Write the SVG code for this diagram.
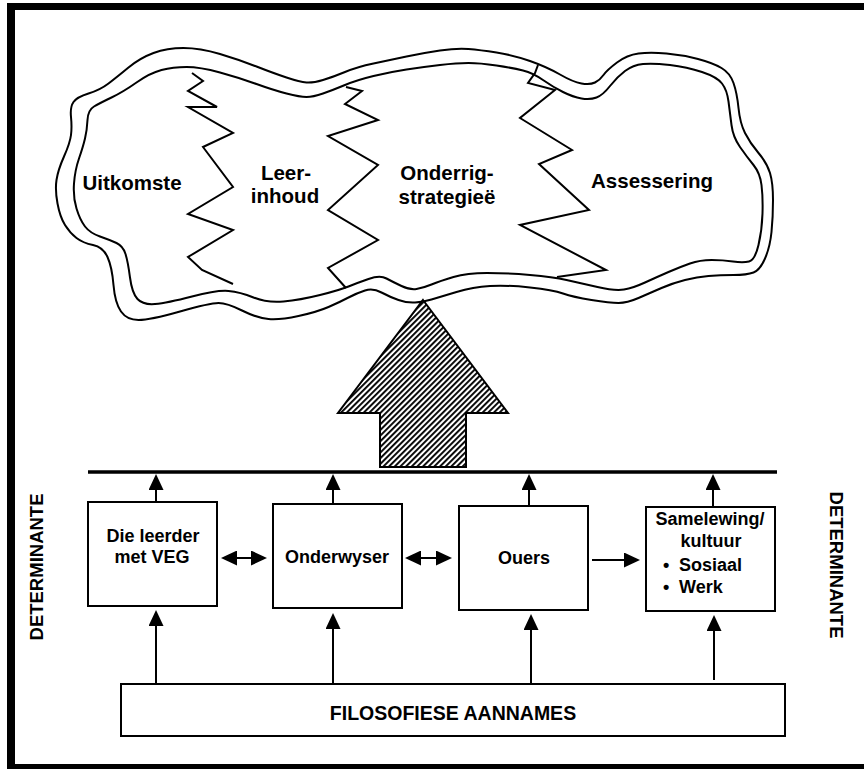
<svg xmlns="http://www.w3.org/2000/svg" width="864" height="769" viewBox="0 0 864 769">
<style>
text{font-family:"Liberation Sans",Arial,sans-serif;font-weight:bold;fill:#000}
.c{font-size:20.5px;text-anchor:middle}
.b{font-size:18px;text-anchor:middle}
.bs{font-size:18px}
.d{font-size:18.5px;text-anchor:middle}
.ln{fill:none;stroke:#000;stroke-width:2}
.box{fill:#fff;stroke:#000;stroke-width:2}
.conn line{stroke:#000;stroke-width:2}
.up{marker-end:url(#ah)}
.dbl{marker-start:url(#ah);marker-end:url(#ah)}
</style>
<defs>
<marker id="ah" viewBox="0 0 16 15" refX="13" refY="7.5" markerWidth="16" markerHeight="15" markerUnits="userSpaceOnUse" orient="auto-start-reverse">
<path d="M0,0 L16,7.5 L0,15 Z" fill="#000"/>
</marker>
<pattern id="hatch" patternUnits="userSpaceOnUse" width="4" height="4" patternTransform="rotate(45)">
<rect width="4" height="4" fill="#fff"/>
<rect width="1.9" height="4" fill="#000"/>
</pattern>
</defs>
<rect width="864" height="769" fill="#fff"/>
<g id="frame">
<rect x="7" y="3" width="857" height="7" fill="#000"/>
<rect x="7" y="3" width="8" height="766" fill="#000"/>
<rect x="7" y="764" width="857" height="5" fill="#000"/>
</g>
<g id="cloud">
<path class="ln" d="M121,311.5 Q115,303 113.5,285 Q112,267 107.5,257 Q103,247 93,245 Q83,243 76.5,238 Q70,233 65,225 Q60,217 57.5,203.5 Q55,190 56.5,180 Q58,170 64,156.5 Q70,143 71,135 Q72,127 71,117 Q70,107 73.5,102 Q77,97 88.5,93.5 Q100,90 108.5,83.5 Q117,77 128.5,67.5 Q140,58 153.5,53 Q167,48 183.5,48 Q200,48 220,54 Q240,60 256.5,66.5 Q273,73 286.5,77.5 Q300,82 306.5,82.5 Q313,83 323,80 Q333,77 345,72 Q357,67 373.5,63.5 Q390,60 406.5,56.5 Q423,53 440,50.5 Q457,48 468.5,49 Q480,50 496.5,52.5 Q513,55 530,61 Q547,67 560,74.5 Q573,82 581.5,83.5 Q590,85 595,82.5 Q600,80 603.5,75 Q607,70 617,62.5 Q627,55 638.5,53.5 Q650,52 666.5,53.5 Q683,55 698,59 Q713,63 721.5,68 Q730,73 733.5,83 Q737,93 738.5,108 Q740,123 745,133 Q750,143 758.5,153 Q767,163 770,173 Q773,183 773,200 Q773,217 771.5,232 Q770,247 765,258.5 Q760,270 753.5,272.5 Q747,275 733.5,275 Q720,275 708.5,276 Q697,277 685,280 Q673,283 661.5,288 Q650,293 638.5,298 Q627,303 618.5,303 Q610,303 591.5,300 Q573,297 563,293.5 Q553,290 530,287.5 Q507,285 490,286 Q473,287 456.5,292 Q440,297 431.5,299.5 Q423,302 415,302.5 Q407,303 398.5,300 Q390,297 381.5,292.5 Q373,288 365,290.5 Q357,293 348.5,297.5 Q340,302 328.5,307 Q317,312 298.5,316 Q280,320 268.5,319 Q257,318 242,310.5 Q227,303 218.5,303 Q210,303 180,311.5 Q150,320 138.5,320 Q127,320 121,311.5 Z"/>
<path class="ln" d="M137.5,299 Q132,293 130,277.5 Q128,262 125.5,254 Q123,246 116.5,243 Q110,240 100,236.5 Q90,233 85,226.5 Q80,220 76.5,208.5 Q73,197 74,183.5 Q75,170 79,158.5 Q83,147 85,138.5 Q87,130 87.5,120 Q88,110 94,106.5 Q100,103 111.5,97.5 Q123,92 136.5,82.5 Q150,73 161.5,70 Q173,67 186.5,67 Q200,67 220,72.5 Q240,78 256.5,84 Q273,90 286.5,93.5 Q300,97 306.5,97 Q313,97 323,93.5 Q333,90 345,85 Q357,80 373.5,76 Q390,72 406.5,69.5 Q423,67 440,65 Q457,63 468.5,63 Q480,63 496.5,65.5 Q513,68 523,70.5 Q533,73 543,80 Q553,87 563,92 Q573,97 581.5,98.5 Q590,100 596.5,97.5 Q603,95 610,86 Q617,77 625,71 Q633,65 643,64 Q653,63 670,65 Q687,67 702,72 Q717,77 722,83.5 Q727,90 728.5,101.5 Q730,113 731.5,125 Q733,137 740,147 Q747,157 753.5,165 Q760,173 761.5,185 Q763,197 762.5,213.5 Q762,230 758.5,245 Q755,260 749,261.5 Q743,263 733,261.5 Q723,260 711.5,260 Q700,260 690,263.5 Q680,267 668.5,272 Q657,277 645,282.5 Q633,288 624,289.5 Q615,291 597.5,287 Q580,283 566.5,280 Q553,277 530,275 Q507,273 487,273 Q467,273 453.5,277 Q440,281 431.5,284.5 Q423,288 416.5,289 Q410,290 401.5,286 Q393,282 386.5,278.5 Q380,275 368.5,279 Q357,283 348.5,286.5 Q340,290 320,295 Q300,300 283.5,301.5 Q267,303 253.5,297.5 Q240,292 228.5,291 Q217,290 192,296.5 Q167,303 155,304 Q143,305 137.5,299 Z"/>
<polyline class="ln" points="192,73 203,81 188,91 217,107 188,107 233,133 203,147 233,187 188,214 233,230 188,257 202,270 233,284"/>
<polyline class="ln" points="346,87 362,91 345,104 378,120 328,136 378,165 328,210 378,240 328,268 346,288"/>
<polyline class="ln" points="538,65 535,73 528,83 555,90 520,118 572,150 539,164 589,210 520,225 606,270 557,277"/>
<text class="c" x="132" y="190">Uitkomste</text>
<text class="c" x="286" y="180">Leer-</text>
<text class="c" x="285" y="203">inhoud</text>
<text class="c" x="447" y="180">Onderrig-</text>
<text class="c" x="447" y="204">strategieë</text>
<text class="c" x="652" y="188">Assessering</text>
</g>
<g id="big-arrow">
<polygon points="423,300 508,413 466,413 466,467 380,467 380,413 338,413" fill="url(#hatch)" stroke="#000" stroke-width="2" stroke-linejoin="miter"/>
</g>
<g id="bar">
<line x1="88" y1="472" x2="777" y2="472" stroke="#000" stroke-width="3.5"/>
</g>
<g id="node-leerder">
<rect class="box" x="88" y="502" width="129" height="104"/>
<text class="b" x="153" y="542">Die leerder</text>
<text class="b" x="152" y="563">met VEG</text>
</g>
<g id="node-onderwyser">
<rect class="box" x="273" y="504" width="129" height="104"/>
<text class="b" x="337" y="563">Onderwyser</text>
</g>
<g id="node-ouers">
<rect class="box" x="459" y="506" width="129" height="104"/>
<text class="b" x="524" y="564">Ouers</text>
</g>
<g id="node-samelewing">
<rect class="box" x="646" y="507" width="129" height="104"/>
<text class="b" x="710" y="525">Samelewing/</text>
<text class="b" x="711" y="547">kultuur</text>
<text class="bs" x="663" y="571">•</text>
<text class="bs" x="679" y="571">Sosiaal</text>
<text class="bs" x="663" y="593">•</text>
<text class="bs" x="679" y="593">Werk</text>
</g>
<g id="node-filosofiese">
<rect class="box" x="121" y="684" width="664" height="52"/>
<text class="b" x="453" y="720" style="font-size:19.5px">FILOSOFIESE AANNAMES</text>
</g>
<g id="label-left">
<text class="d" transform="translate(43,567) rotate(-90)">DETERMINANTE</text>
</g>
<g id="label-right">
<text class="d" transform="translate(830,565) rotate(90)">DETERMINANTE</text>
</g>
<g class="conn" id="connectors">
<line class="up" x1="156" y1="502" x2="156" y2="477"/>
<line class="up" x1="333" y1="504" x2="333" y2="477"/>
<line class="up" x1="529" y1="506" x2="529" y2="477"/>
<line class="up" x1="713" y1="507" x2="713" y2="477"/>
<line class="up" x1="156" y1="684" x2="156" y2="613"/>
<line class="up" x1="333" y1="684" x2="333" y2="616"/>
<line class="up" x1="531" y1="684" x2="531" y2="617"/>
<line class="up" x1="714" y1="680" x2="714" y2="618"/>
<line class="dbl" x1="224" y1="558" x2="264" y2="558"/>
<line class="dbl" x1="408" y1="558" x2="449" y2="558"/>
<line class="up" x1="592" y1="560" x2="637" y2="560"/>
</g>
</svg>
